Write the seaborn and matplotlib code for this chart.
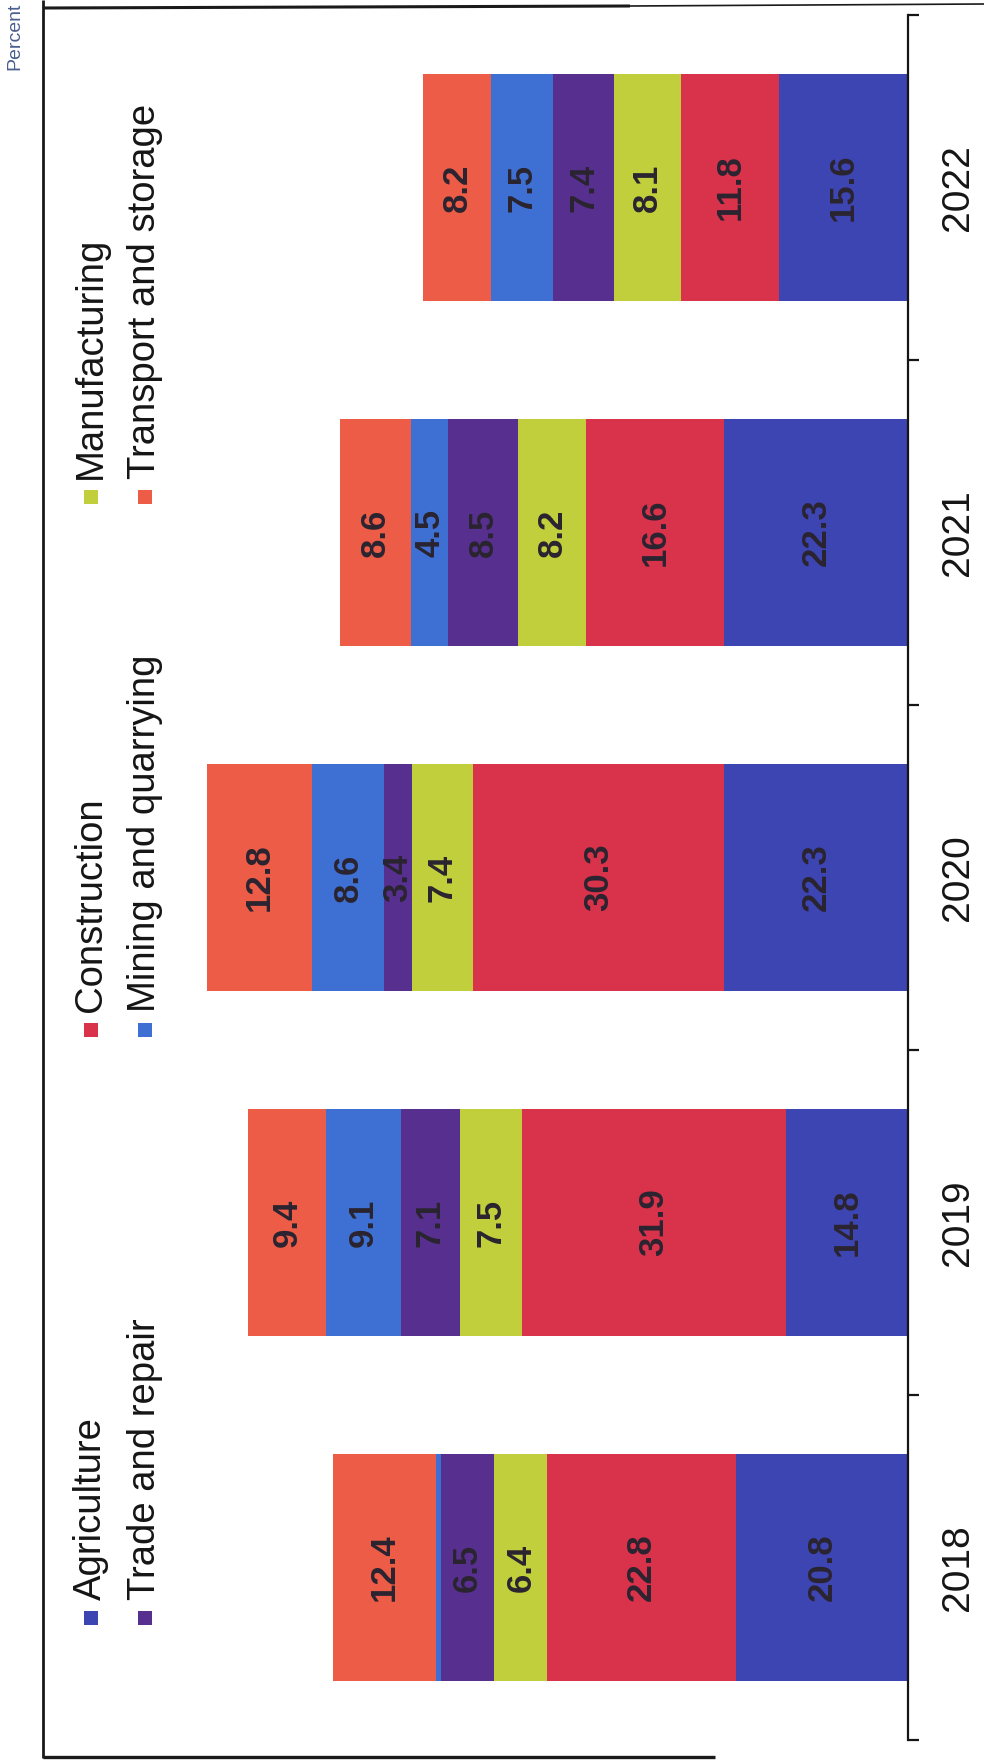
import numpy as np
import pandas as pd
import matplotlib
matplotlib.use("Agg")
import matplotlib.pyplot as plt
import seaborn as sns
from matplotlib.patches import Rectangle
from matplotlib.lines import Line2D

# Share of each sector, percent, per year
years = ["2018", "2019", "2020", "2021", "2022"]
sectors = ["Agriculture", "Construction", "Manufacturing",
           "Trade and repair", "Mining and quarrying", "Transport and storage"]
agriculture = [20.8, 14.8, 22.3, 22.3, 15.6]
construction = [22.8, 31.9, 30.3, 16.6, 11.8]
manufacturing = [6.4, 7.5, 7.4, 8.2, 8.1]
trade_repair = [6.5, 7.1, 3.4, 8.5, 7.4]
mining_quarrying = [0.6, 9.1, 8.6, 4.5, 7.5]
transport_storage = [12.4, 9.4, 12.8, 8.6, 8.2]
sector_colors = ["#3d45b2", "#d9324b", "#c2cf3c", "#57308f", "#3e70d4", "#ec5c46"]
unit_label = "Percent"

series = [agriculture, construction, manufacturing,
          trade_repair, mining_quarrying, transport_storage]

rows = []
for name, vals in zip(sectors, series):
    for yr, v in zip(years, vals):
        rows.append({"year": yr, "sector": name, "share": v})
df = pd.DataFrame(rows)
df["top"] = df.groupby("year")["share"].cumsum()
df["mid"] = df["top"] - df["share"] / 2

sns.set_theme(style="white")
plt.rcParams["font.family"] = ["Liberation Sans", "DejaVu Sans"]

W, H = 984, 1762
fig = plt.figure(figsize=(W / 100, H / 100), dpi=100)


def fx(px):
    return px / W


def fy(py):
    return 1 - py / H


ax = fig.add_axes([fx(42), fy(1740), fx(908) - fx(42), fy(15) - fy(1740)])

# stacked bars: draw cumulative totals, outermost first
order = years[::-1]
for name, col in reversed(list(zip(sectors, sector_colors))):
    sub = df[df["sector"] == name]
    sns.barplot(data=sub, x="top", y="year", order=order, orient="y",
                color=col, saturation=1, width=0.66, errorbar=None,
                linewidth=0, ax=ax)

ax.set_xlim(104.7, 0)
ax.set_ylim(len(years) - 0.5, -0.5)

pos = {yr: i for i, yr in enumerate(order)}
for r in df.itertuples():
    if r.share >= 2:
        ax.text(r.mid, pos[r.year], f"{r.share:.1f}", rotation=90,
                ha="center", va="center", fontsize=25, fontweight="bold",
                color="#2a2430")

ax.set_xticks([])
ax.set_xlabel("")
ax.set_ylabel("")
for s in ["left", "top", "bottom"]:
    ax.spines[s].set_visible(False)
ax.spines["right"].set_visible(True)
ax.spines["right"].set_color("#151515")
ax.spines["right"].set_linewidth(1.6)

ax.yaxis.tick_right()
ax.set_yticks(np.arange(-0.5, len(years), 1.0))
ax.set_yticklabels([])
ax.set_yticks(np.arange(len(years)), labels=order, minor=True)
ax.tick_params(axis="y", which="major", direction="out", length=8, width=1.6,
               color="#151515", right=True, left=False)
ax.tick_params(axis="y", which="minor", length=0, pad=23, labelsize=28,
               labelcolor="#151515", right=True, left=False,
               labelright=True, labelleft=False)
for t in ax.get_yticklabels(minor=True):
    t.set_rotation(90)
    t.set_va("center")

# legend: three groups of two entries, written sideways
legend_group_y = [1618, 1030, 497]
legend_row_x = [91, 145]
for i, (name, col) in enumerate(zip(sectors, sector_colors)):
    r, c = divmod(i, 3)
    x, y = legend_row_x[r], legend_group_y[c]
    fig.patches.append(Rectangle((fx(x - 7), fy(y + 7)), 14 / W, 14 / H,
                                 transform=fig.transFigure, facecolor=col,
                                 edgecolor="none"))
    fig.text(fx(x), fy(y - 18), name, rotation=90, rotation_mode="anchor",
             ha="left", va="center", fontsize=27.5, color="#151515")

fig.text(fx(15), fy(70), unit_label, rotation=90, rotation_mode="anchor",
         ha="left", va="center", fontsize=14, color="#4a5f8f")

# outer frame
frame = dict(transform=fig.transFigure, color="#1a1a1a", solid_capstyle="butt")
fig.add_artist(Line2D([fx(43), fx(43)], [fy(0), fy(1758)], lw=2, **frame))
fig.add_artist(Line2D([fx(43), fx(630)], [fy(8), fy(6)], lw=2.2, **frame))
fig.add_artist(Line2D([fx(630), fx(984)], [fy(6), fy(4)], lw=1.2, **frame))
fig.add_artist(Line2D([fx(43), fx(715)], [fy(1757), fy(1757)], lw=2.4, **frame))

fig.savefig("out.png", dpi=100)
